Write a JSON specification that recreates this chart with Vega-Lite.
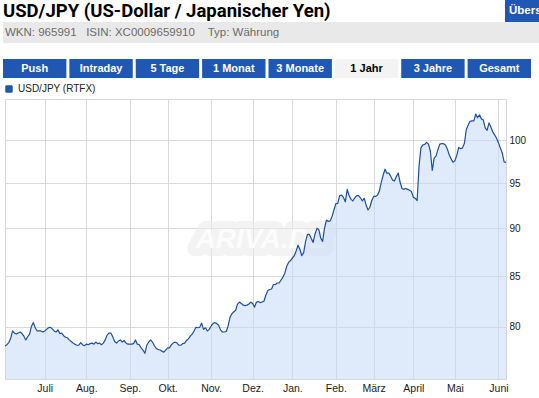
{
  "$schema": "https://vega.github.io/schema/vega-lite/v6.json",
  "padding": {"left": 3, "top": 0, "right": 0, "bottom": 0},
  "autosize": {"type": "pad"},
  "background": "white",
  "config": {"font": "Liberation Sans", "view": {"stroke": null}},
  "spacing": 0,
  "vconcat": [
    {
      "spacing": 5,
      "hconcat": [
        {
          "width": 497, "height": 22,
          "data": {"values": [{"t": "USD/JPY (US-Dollar / Japanischer Yen)"}]},
          "mark": {"type": "text", "align": "left", "baseline": "middle", "font": "Roboto", "fontWeight": "bold", "fontSize": 18.5, "color": "#000000"},
          "encoding": {
            "x": {"field": "t", "type": "nominal", "axis": null, "scale": {"type": "point", "padding": 0, "align": 0}},
            "text": {"field": "t"}
          }
        },
        {
          "width": 40, "height": 22,
          "view": {"fill": "#1f57b3", "stroke": null},
          "data": {"values": [{"t": "Übers"}]},
          "mark": {"type": "text", "align": "left", "baseline": "middle", "fontWeight": "bold", "fontSize": 11.5, "color": "#ffffff", "dx": 4},
          "encoding": {
            "x": {"field": "t", "type": "nominal", "axis": null, "scale": {"type": "point", "padding": 0, "align": 0}},
            "text": {"field": "t"}
          }
        }
      ]
    },
    {
      "width": 536, "height": 21,
      "view": {"fill": "#e9e9e9", "stroke": null},
      "data": {"values": [{"t": "WKN: 965991\u00a0\u00a0\u00a0ISIN: XC0009659910\u00a0\u00a0\u00a0\u00a0Typ: Währung"}]},
      "mark": {"type": "text", "align": "left", "baseline": "middle", "fontSize": 11.5, "color": "#6b6b6b", "dx": 2},
      "encoding": {
        "x": {"field": "t", "type": "nominal", "axis": null, "scale": {"type": "point", "padding": 0, "align": 0}},
        "text": {"field": "t"}
      }
    },
    {"width": 1, "height": 16, "data": {"values": []}, "mark": "rect", "encoding": {}},
    {
      "width": 528, "height": 19,
      "data": {"values": [
        {"tab": "Push", "active": false},
        {"tab": "Intraday", "active": false},
        {"tab": "5 Tage", "active": false},
        {"tab": "1 Monat", "active": false},
        {"tab": "3 Monate", "active": false},
        {"tab": "1 Jahr", "active": true},
        {"tab": "3 Jahre", "active": false},
        {"tab": "Gesamt", "active": false}
      ]},
      "encoding": {
        "x": {"field": "tab", "type": "nominal", "sort": null, "axis": null, "scale": {"type": "band", "paddingInner": 0.045, "paddingOuter": 0, "align": 0}}
      },
      "layer": [
        {
          "mark": {"type": "bar"},
          "encoding": {"color": {"condition": {"test": "datum.active", "value": "#f3f3f3"}, "value": "#1f57b3"}}
        },
        {
          "mark": {"type": "text", "fontWeight": "bold", "fontSize": 11, "baseline": "middle"},
          "encoding": {
            "text": {"field": "tab"},
            "color": {"condition": {"test": "datum.active", "value": "#000000"}, "value": "#ffffff"}
          }
        }
      ]
    },
    {"width": 1, "height": 20, "data": {"values": []}, "mark": "rect", "encoding": {}},
    {
      "bounds": "flush",
      "spacing": 0,
      "hconcat": [
        {"width": 2, "height": 280, "data": {"values": []}, "mark": "rect", "encoding": {}},
        {
          "width": 501, "height": 280,
          "view": {"stroke": "#d6d6d6", "strokeWidth": 1},
          "layer": [
            {
              "data": {"values": [{"w": "ARIVA.DE"}]},
              "mark": {"type": "text", "fontSize": 28, "fontStyle": "italic", "fontWeight": "bold", "fill": "#ececec", "stroke": "#ececec", "strokeWidth": 16, "strokeJoin": "round", "opacity": 0.6, "dx": 6, "dy": 1},
              "encoding": {"text": {"field": "w"}}
            },
            {
              "data": {"values": [{"w": "ARIVA.DE"}]},
              "mark": {"type": "text", "fontSize": 28, "fontStyle": "italic", "fontWeight": "bold", "fill": "#fcfcfc", "dx": 6, "dy": 1},
              "encoding": {"text": {"field": "w"}}
            },
            {
              "data": {"name": "fx"},
              "mark": {"type": "area", "color": "#c4d8f5", "opacity": 0.55, "clip": true},
              "encoding": {
                "x": {"field": "d", "type": "ordinal", "scale": {"type": "point", "padding": 0},
                  "axis": {"values": ["2012-07-02", "2012-08-01", "2012-09-03", "2012-10-01", "2012-11-01", "2012-12-03", "2013-01-01", "2013-02-01", "2013-03-01", "2013-04-01", "2013-05-01", "2013-06-03"],
                    "labelExpr": "['Jan.','Feb.','März','April','Mai','Juni','Juli','Aug.','Sep.','Okt.','Nov.','Dez.'][toNumber(substring(datum.value,5,7))-1]",
                    "labelAngle": 0, "ticks": false, "domain": false, "grid": true, "gridColor": "#d9d9d9", "labelFontSize": 10.5, "labelColor": "#1a1a1a", "labelPadding": 4, "title": null, "labelOverlap": false}},
                "y": {"field": "v", "type": "quantitative", "stack": null, "scale": {"type": "log", "domain": [75.15, 105.07], "nice": false},
                  "axis": {"orient": "right", "values": [80, 85, 90, 95, 100], "format": "d", "ticks": false, "domain": false, "grid": true, "gridColor": "#d9d9d9", "labelFontSize": 10, "labelColor": "#1a1a1a", "labelPadding": 3, "title": null}},
                "y2": {"value": "height"}
              }
            },
            {
              "data": {"name": "fx"},
              "mark": {"type": "line", "strokeWidth": 1.2, "strokeJoin": "round", "clip": true},
              "encoding": {
                "x": {"field": "d", "type": "ordinal"},
                "y": {"field": "v", "type": "quantitative"},
                "color": {"datum": "USD/JPY (RTFX)", "type": "nominal", "scale": {"range": ["#1d4f9f"]},
                  "legend": {"orient": "none", "legendX": 1, "legendY": 84, "title": null, "symbolType": "square", "symbolSize": 40, "labelFontSize": 10, "labelColor": "#222222", "labelOffset": 4,
                    "encode": {"symbols": {"update": {"fill": {"value": "#1f56b0"}, "stroke": {"value": "#0c2a66"}, "strokeWidth": {"value": 1}}}}}}
              }
            }
          ]
        }
      ]
    }
  ],
  "datasets": {
    "fx": [
      {"d":"2012-06-01","v":78.18},{"d":"2012-06-04","v":78.30},{"d":"2012-06-05","v":78.50},{"d":"2012-06-06","v":78.90},{"d":"2012-06-07","v":79.60},{"d":"2012-06-08","v":79.40},{"d":"2012-06-11","v":79.30},{"d":"2012-06-12","v":79.40},{"d":"2012-06-13","v":79.50},{"d":"2012-06-14","v":79.35},{"d":"2012-06-15","v":79.10},{"d":"2012-06-18","v":78.75},{"d":"2012-06-19","v":79.05},{"d":"2012-06-20","v":79.30},{"d":"2012-06-21","v":80.05},{"d":"2012-06-22","v":80.40},{"d":"2012-06-25","v":79.90},{"d":"2012-06-26","v":79.60},{"d":"2012-06-27","v":79.60},{"d":"2012-06-28","v":79.60},{"d":"2012-06-29","v":79.50},
      {"d":"2012-07-02","v":79.60},{"d":"2012-07-03","v":79.75},{"d":"2012-07-04","v":79.90},{"d":"2012-07-05","v":79.95},{"d":"2012-07-06","v":79.80},{"d":"2012-07-09","v":79.60},{"d":"2012-07-10","v":79.50},{"d":"2012-07-11","v":79.70},{"d":"2012-07-12","v":79.35},{"d":"2012-07-13","v":79.40},{"d":"2012-07-16","v":79.15},{"d":"2012-07-17","v":79.00},{"d":"2012-07-18","v":78.95},{"d":"2012-07-19","v":78.75},{"d":"2012-07-20","v":78.60},{"d":"2012-07-23","v":78.45},{"d":"2012-07-24","v":78.35},{"d":"2012-07-25","v":78.25},{"d":"2012-07-26","v":78.25},{"d":"2012-07-27","v":78.50},{"d":"2012-07-30","v":78.30},{"d":"2012-07-31","v":78.20},
      {"d":"2012-08-01","v":78.35},{"d":"2012-08-02","v":78.30},{"d":"2012-08-03","v":78.40},{"d":"2012-08-06","v":78.45},{"d":"2012-08-07","v":78.35},{"d":"2012-08-08","v":78.55},{"d":"2012-08-09","v":78.40},{"d":"2012-08-10","v":78.45},{"d":"2012-08-13","v":78.30},{"d":"2012-08-14","v":78.45},{"d":"2012-08-15","v":78.75},{"d":"2012-08-16","v":79.20},{"d":"2012-08-17","v":79.40},{"d":"2012-08-20","v":79.40},{"d":"2012-08-21","v":79.05},{"d":"2012-08-22","v":78.60},{"d":"2012-08-23","v":78.45},{"d":"2012-08-24","v":78.65},{"d":"2012-08-27","v":78.75},{"d":"2012-08-28","v":78.55},{"d":"2012-08-29","v":78.70},{"d":"2012-08-30","v":78.45},{"d":"2012-08-31","v":78.35},
      {"d":"2012-09-03","v":78.35},{"d":"2012-09-04","v":78.35},{"d":"2012-09-05","v":78.40},{"d":"2012-09-06","v":78.75},{"d":"2012-09-07","v":78.35},{"d":"2012-09-10","v":78.30},{"d":"2012-09-11","v":78.00},{"d":"2012-09-12","v":77.80},{"d":"2012-09-13","v":77.50},{"d":"2012-09-14","v":78.25},{"d":"2012-09-17","v":78.55},{"d":"2012-09-18","v":78.75},{"d":"2012-09-19","v":78.55},{"d":"2012-09-20","v":78.20},{"d":"2012-09-21","v":77.95},{"d":"2012-09-24","v":77.85},{"d":"2012-09-25","v":77.80},{"d":"2012-09-26","v":77.70},{"d":"2012-09-27","v":77.60},{"d":"2012-09-28","v":77.80},
      {"d":"2012-10-01","v":78.00},{"d":"2012-10-02","v":78.00},{"d":"2012-10-03","v":78.30},{"d":"2012-10-04","v":78.45},{"d":"2012-10-05","v":78.55},{"d":"2012-10-08","v":78.45},{"d":"2012-10-09","v":78.25},{"d":"2012-10-10","v":78.25},{"d":"2012-10-11","v":78.40},{"d":"2012-10-12","v":78.45},{"d":"2012-10-15","v":78.70},{"d":"2012-10-16","v":78.85},{"d":"2012-10-17","v":79.10},{"d":"2012-10-18","v":79.30},{"d":"2012-10-19","v":79.60},{"d":"2012-10-22","v":79.95},{"d":"2012-10-23","v":79.90},{"d":"2012-10-24","v":79.95},{"d":"2012-10-25","v":80.35},{"d":"2012-10-26","v":79.75},{"d":"2012-10-29","v":79.90},{"d":"2012-10-30","v":79.60},{"d":"2012-10-31","v":79.75},
      {"d":"2012-11-01","v":80.05},{"d":"2012-11-02","v":80.30},{"d":"2012-11-05","v":80.40},{"d":"2012-11-06","v":80.30},{"d":"2012-11-07","v":80.15},{"d":"2012-11-08","v":79.70},{"d":"2012-11-09","v":79.50},{"d":"2012-11-12","v":79.50},{"d":"2012-11-13","v":79.55},{"d":"2012-11-14","v":80.05},{"d":"2012-11-15","v":80.90},{"d":"2012-11-16","v":81.25},{"d":"2012-11-19","v":81.45},{"d":"2012-11-20","v":81.60},{"d":"2012-11-21","v":82.20},{"d":"2012-11-22","v":82.40},{"d":"2012-11-23","v":82.25},{"d":"2012-11-26","v":82.10},{"d":"2012-11-27","v":82.05},{"d":"2012-11-28","v":82.10},{"d":"2012-11-29","v":82.20},{"d":"2012-11-30","v":82.40},
      {"d":"2012-12-03","v":82.25},{"d":"2012-12-04","v":81.90},{"d":"2012-12-05","v":82.40},{"d":"2012-12-06","v":82.45},{"d":"2012-12-07","v":82.35},{"d":"2012-12-10","v":82.40},{"d":"2012-12-11","v":82.50},{"d":"2012-12-12","v":83.10},{"d":"2012-12-13","v":83.55},{"d":"2012-12-14","v":83.65},{"d":"2012-12-17","v":83.70},{"d":"2012-12-18","v":84.15},{"d":"2012-12-19","v":84.15},{"d":"2012-12-20","v":84.30},{"d":"2012-12-21","v":84.30},{"d":"2012-12-24","v":84.60},{"d":"2012-12-25","v":84.90},{"d":"2012-12-26","v":85.30},{"d":"2012-12-27","v":86.00},{"d":"2012-12-28","v":86.40},{"d":"2012-12-31","v":86.60},
      {"d":"2013-01-01","v":86.85},{"d":"2013-01-02","v":87.10},{"d":"2013-01-03","v":87.60},{"d":"2013-01-04","v":88.20},{"d":"2013-01-07","v":87.75},{"d":"2013-01-08","v":87.10},{"d":"2013-01-09","v":87.45},{"d":"2013-01-10","v":88.60},{"d":"2013-01-11","v":89.35},{"d":"2013-01-14","v":89.35},{"d":"2013-01-15","v":88.90},{"d":"2013-01-16","v":88.50},{"d":"2013-01-17","v":89.40},{"d":"2013-01-18","v":90.00},{"d":"2013-01-21","v":89.85},{"d":"2013-01-22","v":88.95},{"d":"2013-01-23","v":88.60},{"d":"2013-01-24","v":90.00},{"d":"2013-01-25","v":90.90},{"d":"2013-01-28","v":90.75},{"d":"2013-01-29","v":90.80},{"d":"2013-01-30","v":91.30},{"d":"2013-01-31","v":92.00},
      {"d":"2013-02-01","v":92.70},{"d":"2013-02-04","v":92.72},{"d":"2013-02-05","v":93.60},{"d":"2013-02-06","v":93.65},{"d":"2013-02-07","v":93.40},{"d":"2013-02-08","v":92.90},{"d":"2013-02-11","v":94.30},{"d":"2013-02-12","v":93.60},{"d":"2013-02-13","v":93.20},{"d":"2013-02-14","v":93.00},{"d":"2013-02-15","v":93.35},{"d":"2013-02-18","v":93.60},{"d":"2013-02-19","v":93.60},{"d":"2013-02-20","v":93.35},{"d":"2013-02-21","v":93.00},{"d":"2013-02-22","v":93.30},{"d":"2013-02-25","v":92.55},{"d":"2013-02-26","v":92.00},{"d":"2013-02-27","v":92.30},{"d":"2013-02-28","v":93.05},
      {"d":"2013-03-01","v":93.50},{"d":"2013-03-04","v":93.50},{"d":"2013-03-05","v":93.65},{"d":"2013-03-06","v":94.10},{"d":"2013-03-07","v":95.10},{"d":"2013-03-08","v":95.90},{"d":"2013-03-11","v":96.60},{"d":"2013-03-12","v":96.15},{"d":"2013-03-13","v":96.15},{"d":"2013-03-14","v":95.80},{"d":"2013-03-15","v":95.35},{"d":"2013-03-18","v":95.25},{"d":"2013-03-19","v":95.75},{"d":"2013-03-20","v":96.15},{"d":"2013-03-21","v":95.10},{"d":"2013-03-22","v":94.40},{"d":"2013-03-25","v":94.30},{"d":"2013-03-26","v":94.40},{"d":"2013-03-27","v":94.30},{"d":"2013-03-28","v":94.20},{"d":"2013-03-29","v":94.05},
      {"d":"2013-04-01","v":93.40},{"d":"2013-04-02","v":93.30},{"d":"2013-04-03","v":93.05},{"d":"2013-04-04","v":96.95},{"d":"2013-04-05","v":99.10},{"d":"2013-04-08","v":99.45},{"d":"2013-04-09","v":99.50},{"d":"2013-04-10","v":99.75},{"d":"2013-04-11","v":99.55},{"d":"2013-04-12","v":98.70},{"d":"2013-04-15","v":96.45},{"d":"2013-04-16","v":97.90},{"d":"2013-04-17","v":98.15},{"d":"2013-04-18","v":98.90},{"d":"2013-04-19","v":99.55},{"d":"2013-04-22","v":99.60},{"d":"2013-04-23","v":99.60},{"d":"2013-04-24","v":99.45},{"d":"2013-04-25","v":98.95},{"d":"2013-04-26","v":98.25},{"d":"2013-04-29","v":97.80},{"d":"2013-04-30","v":97.40},
      {"d":"2013-05-01","v":97.60},{"d":"2013-05-02","v":98.25},{"d":"2013-05-03","v":99.15},{"d":"2013-05-06","v":99.00},{"d":"2013-05-07","v":99.10},{"d":"2013-05-08","v":99.65},{"d":"2013-05-09","v":101.30},{"d":"2013-05-10","v":101.85},{"d":"2013-05-13","v":102.30},{"d":"2013-05-14","v":102.35},{"d":"2013-05-15","v":102.35},{"d":"2013-05-16","v":103.20},{"d":"2013-05-17","v":102.75},{"d":"2013-05-20","v":103.10},{"d":"2013-05-21","v":102.60},{"d":"2013-05-22","v":102.45},{"d":"2013-05-23","v":101.50},{"d":"2013-05-24","v":101.20},{"d":"2013-05-27","v":102.10},{"d":"2013-05-28","v":101.60},{"d":"2013-05-29","v":101.00},{"d":"2013-05-30","v":100.65},{"d":"2013-05-31","v":100.25},
      {"d":"2013-06-03","v":99.70},{"d":"2013-06-04","v":99.10},{"d":"2013-06-05","v":98.50},{"d":"2013-06-06","v":97.45},{"d":"2013-06-07","v":97.40}
    ]
  }
}
